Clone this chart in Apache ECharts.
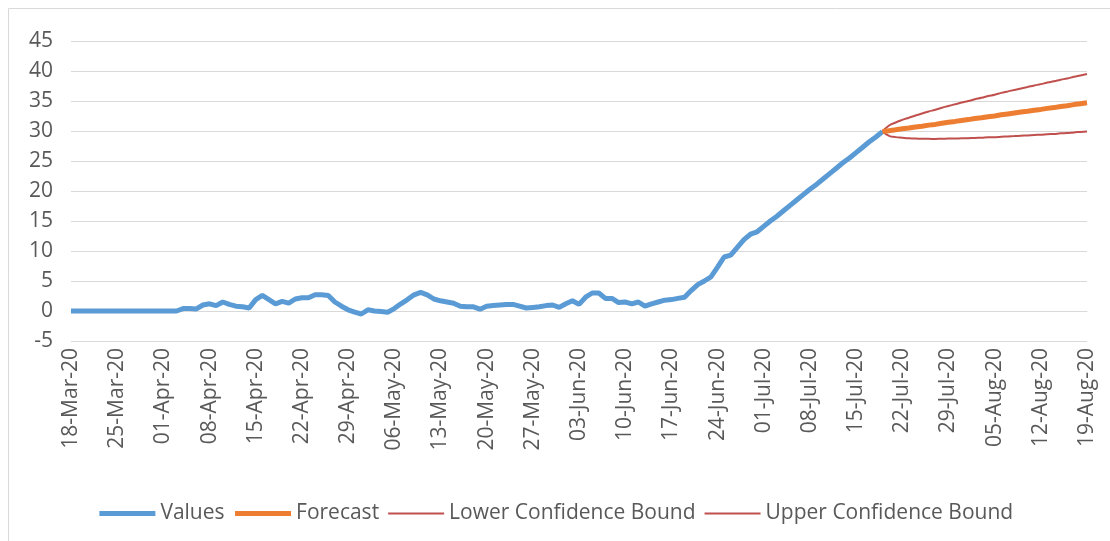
<!DOCTYPE html>
<html>
<head>
<meta charset="utf-8">
<title>Forecast</title>
<script src="https://cdn.jsdelivr.net/npm/echarts@6/dist/echarts.min.js"></script>
<style>
html, body { margin: 0; padding: 0; background: #fff; }
#main { width: 1110px; height: 541px; }
</style>
</head>
<body>
<div id="main"></div>
<script>
// daily dates 18-Mar-20 .. 19-Aug-20
var months = ['Jan','Feb','Mar','Apr','May','Jun','Jul','Aug','Sep','Oct','Nov','Dec'];
var dates = [];
for (var d = new Date(2020, 2, 18); d <= new Date(2020, 7, 19); d.setDate(d.getDate() + 1)) {
    var dd = d.getDate() < 10 ? '0' + d.getDate() : '' + d.getDate();
    dates.push(dd + '-' + months[d.getMonth()] + '-20');
}

// observed values, 18-Mar .. 19-Jul
var values = [
    0, 0, 0, 0, 0, 0, 0, 0, 0, 0, 0, 0, 0, 0, 0, 0, 0,
    0.4, 0.4, 0.35, 1.0, 1.2, 0.9, 1.5, 1.1, 0.8, 0.7, 0.5, 1.9, 2.6,
    1.9, 1.2, 1.6, 1.3, 2.0, 2.2, 2.2, 2.7, 2.7, 2.6, 1.5, 0.8, 0.2, -0.2,
    -0.5, 0.2, 0.0, -0.1, -0.2, 0.4, 1.2, 1.9, 2.7, 3.1, 2.7, 2.0, 1.7, 1.5,
    1.3, 0.8, 0.7, 0.7, 0.3, 0.8, 0.9, 1.0, 1.1, 1.1, 0.8, 0.5, 0.6, 0.7,
    0.9, 1.0, 0.6, 1.2, 1.7, 1.1, 2.3, 3.0, 3.0, 2.1, 2.1, 1.4, 1.5, 1.2,
    1.5, 0.8, 1.2, 1.5, 1.8, 1.9, 2.1, 2.3, 3.4, 4.4, 5.0, 5.7, 7.3, 9.0,
    9.3, 10.6, 11.9, 12.8, 13.2, 14.1, 15.0, 15.8, 16.7, 17.6, 18.5, 19.4,
    20.3, 21.1, 22.0, 22.9, 23.8, 24.7, 25.5, 26.4, 27.3, 28.2, 29.0, 29.9
];

// forecast and bounds, 19-Jul .. 19-Aug
var forecast = [
    29.9, 30.05, 30.2, 30.36, 30.5, 30.67, 30.8, 30.98, 31.1, 31.3, 31.45,
    31.6, 31.76, 31.9, 32.07, 32.2, 32.38, 32.5, 32.7, 32.85, 33.0, 33.15,
    33.3, 33.46, 33.6, 33.77, 33.9, 34.08, 34.2, 34.4, 34.55, 34.7
];
var lower = [
    29.9, 29.19, 28.98, 28.87, 28.78, 28.75, 28.69, 28.7, 28.67, 28.72, 28.73,
    28.75, 28.78, 28.8, 28.85, 28.87, 28.94, 28.95, 29.05, 29.1, 29.15, 29.21,
    29.27, 29.34, 29.39, 29.47, 29.51, 29.61, 29.65, 29.77, 29.84, 29.91
];
var upper = [
    29.9, 30.91, 31.42, 31.85, 32.22, 32.59, 32.91, 33.26, 33.53, 33.88, 34.17,
    34.45, 34.74, 35.0, 35.29, 35.53, 35.82, 36.05, 36.35, 36.6, 36.85, 37.09,
    37.33, 37.58, 37.81, 38.07, 38.29, 38.55, 38.75, 39.03, 39.26, 39.49
];

var start = values.length - 1;
function pad(arr) {
    var out = [];
    for (var i = 0; i < start; i++) out.push(null);
    return out.concat(arr);
}

var myChart = echarts.init(document.getElementById('main'));
var font = '"Open Sans", "Liberation Sans", sans-serif';

var option = {
    animation: false,
    textStyle: { fontFamily: font },
    graphic: [{
        type: 'rect',
        shape: { x: 8.5, y: 8.5, width: 1120, height: 540 },
        style: { fill: 'none', stroke: '#d9d9d9', lineWidth: 1 },
        silent: true
    }],
    legend: {
        bottom: 12,
        left: 'center',
        itemWidth: 56,
        itemHeight: 14,
        itemGap: 8,
        // hide the circle, keep only the line
        itemStyle: { color: 'rgba(0,0,0,0)', borderColor: 'rgba(0,0,0,0)', borderWidth: 0 },
        textStyle: { fontSize: 21, color: '#595959', fontFamily: font },
        data: [
            { name: 'Values', lineStyle: { width: 5 } },
            { name: 'Forecast', lineStyle: { width: 5 } },
            { name: 'Lower Confidence Bound', lineStyle: { width: 2 } },
            { name: 'Upper Confidence Bound', lineStyle: { width: 2 } }
        ]
    },
    grid: { left: 71, right: 23, top: 41, bottom: 200 },
    xAxis: {
        type: 'category',
        boundaryGap: false,
        data: dates,
        axisLine: { lineStyle: { color: '#d9d9d9', width: 1 } },
        axisTick: { show: false },
        axisLabel: {
            interval: 6,
            rotate: 90,
            margin: 7,
            fontSize: 21,
            color: '#595959',
            fontFamily: font
        }
    },
    yAxis: {
        type: 'value',
        min: -5,
        max: 45,
        interval: 5,
        axisLine: { show: false },
        axisTick: { show: false },
        axisLabel: { margin: 18, fontSize: 21, color: '#595959', fontFamily: font },
        splitLine: { lineStyle: { color: '#d9d9d9', width: 1 } }
    },
    series: [
        {
            name: 'Values', type: 'line', symbol: 'none',
            data: values,
            lineStyle: { color: '#5B9BD5', width: 5 },
            itemStyle: { color: '#5B9BD5' },
            z: 3
        },
        {
            name: 'Forecast', type: 'line', symbol: 'none',
            data: pad(forecast),
            lineStyle: { color: '#ED7D31', width: 5 },
            itemStyle: { color: '#ED7D31' },
            z: 4
        },
        {
            name: 'Lower Confidence Bound', type: 'line', symbol: 'none',
            data: pad(lower), smooth: true,
            lineStyle: { color: '#C0504D', width: 2 },
            itemStyle: { color: '#C0504D' },
            z: 2
        },
        {
            name: 'Upper Confidence Bound', type: 'line', symbol: 'none',
            data: pad(upper), smooth: true,
            lineStyle: { color: '#C0504D', width: 2 },
            itemStyle: { color: '#C0504D' },
            z: 2
        }
    ]
};

myChart.setOption(option);
</script>
</body>
</html>
